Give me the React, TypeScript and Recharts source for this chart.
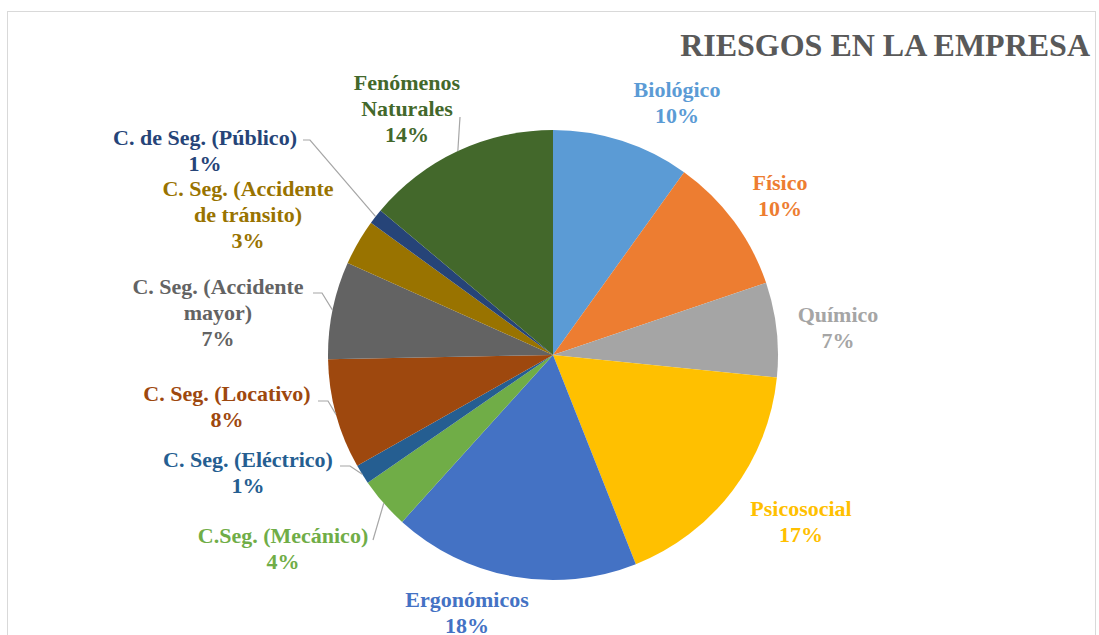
import React from 'react';
import { PieChart, Pie, Cell } from 'recharts';

// Risk categories, clockwise from 12 o'clock
const CATEGORIES = [
  'Biológico',
  'Físico',
  'Químico',
  'Psicosocial',
  'Ergonómicos',
  'C.Seg. (Mecánico)',
  'C. Seg. (Eléctrico)',
  'C. Seg. (Locativo)',
  'C. Seg. (Accidente mayor)',
  'C. Seg. (Accidente de tránsito)',
  'C. de Seg. (Público)',
  'Fenómenos Naturales',
];

// how each label wraps in the chart
const LABEL_LINES = [
  ['Biológico'],
  ['Físico'],
  ['Químico'],
  ['Psicosocial'],
  ['Ergonómicos'],
  ['C.Seg. (Mecánico)'],
  ['C. Seg. (Eléctrico)'],
  ['C. Seg. (Locativo)'],
  ['C. Seg. (Accidente', 'mayor)'],
  ['C. Seg. (Accidente', 'de tránsito)'],
  ['C. de Seg. (Público)'],
  ['Fenómenos', 'Naturales'],
];

// share of each risk (%)
const VALUES = [9.9, 9.9, 6.8, 17.4, 17.7, 3.7, 1.4, 7.9, 7.0, 3.3, 1.1, 13.9];

const COLORS = [
  '#5B9BD5', '#ED7D31', '#A5A5A5', '#FFC000', '#4472C4', '#70AD47',
  '#255E91', '#9E480E', '#636363', '#997300', '#264478', '#43682B',
];

// label placement relative to the pie centre (dx, dy of first line) + leader line points
const LABEL_LAYOUT: { dx: number; dy: number; lead?: number[][] }[] = [
  { dx: 124, dy: -265 },
  { dx: 227, dy: -172 },
  { dx: 285, dy: -40 },
  { dx: 248, dy: 154 },
  { dx: -86, dy: 245 },
  { dx: -270, dy: 181, lead: [[-180, 185]] },
  { dx: -305, dy: 105, lead: [[-213, 111], [-203, 111]] },
  { dx: -326, dy: 39, lead: [[-235, 46], [-225, 46]] },
  { dx: -335, dy: -68, lead: [[-240, -62], [-231, -62]] },
  { dx: -305, dy: -166 },
  { dx: -348, dy: -217, lead: [[-250, -215], [-243, -215]] },
  { dx: -146, dy: -272, lead: [[-93, -238]] },
];

const data = CATEGORIES.map((name, i) => ({ name, value: VALUES[i] }));
const total = VALUES.reduce((a, b) => a + b, 0);

const RADIAN = Math.PI / 180;
const FONT = "'Liberation Serif', 'Times New Roman', serif";

function renderLabel(props: any) {
  const { cx, cy, midAngle, outerRadius, index, value } = props;
  const layout = LABEL_LAYOUT[index];
  const lines = [...LABEL_LINES[index], `${Math.round((value / total) * 100)}%`];
  const x = cx + layout.dx;
  const y = cy + layout.dy;
  let leader = null;
  if (layout.lead) {
    const ex = cx + outerRadius * Math.cos(-midAngle * RADIAN);
    const ey = cy + outerRadius * Math.sin(-midAngle * RADIAN);
    const pts = layout.lead.map(([px, py]) => `${cx + px},${cy + py}`).concat(`${ex},${ey}`);
    leader = <polyline points={pts.join(' ')} fill="none" stroke="#A6A6A6" strokeWidth={1.2} />;
  }
  return (
    <g key={`label-${index}`}>
      {leader}
      <text
        x={x}
        y={y + 7}
        textAnchor="middle"
        fill={COLORS[index]}
        style={{ fontFamily: FONT, fontWeight: 700, fontSize: 22 }}
      >
        {lines.map((l, i) => (
          <tspan key={i} x={x} dy={i === 0 ? 0 : 26}>{l}</tspan>
        ))}
      </text>
    </g>
  );
}

export default function App() {
  return (
    <div style={{ position: 'absolute', left: 0, top: 0, width: 1099, height: 635, overflow: 'hidden', background: '#fff' }}>
      <div
        style={{
          position: 'absolute', left: 7, top: 11, width: 1089, height: 640,
          border: '1.5px solid #D9D9D9', boxSizing: 'border-box',
        }}
      />
      <div
        style={{
          position: 'absolute', right: 9, top: 25, fontFamily: FONT, fontWeight: 700,
          fontSize: 32, color: '#595959', whiteSpace: 'nowrap', lineHeight: '40px',
        }}
      >
        RIESGOS EN LA EMPRESA
      </div>
      <div style={{ position: 'absolute', left: 0, top: 0 }}>
        <PieChart width={1099} height={635} margin={{ top: 0, right: 0, bottom: 0, left: 0 }}>
          <Pie
            data={data}
            dataKey="value"
            nameKey="name"
            cx={553}
            cy={355}
            outerRadius={225}
            startAngle={90}
            endAngle={-270}
            stroke="none"
            label={renderLabel}
            labelLine={false}
            isAnimationActive={false}
          >
            {data.map((entry, index) => (
              <Cell key={`cell-${index}`} fill={COLORS[index]} />
            ))}
          </Pie>
        </PieChart>
      </div>
    </div>
  );
}
